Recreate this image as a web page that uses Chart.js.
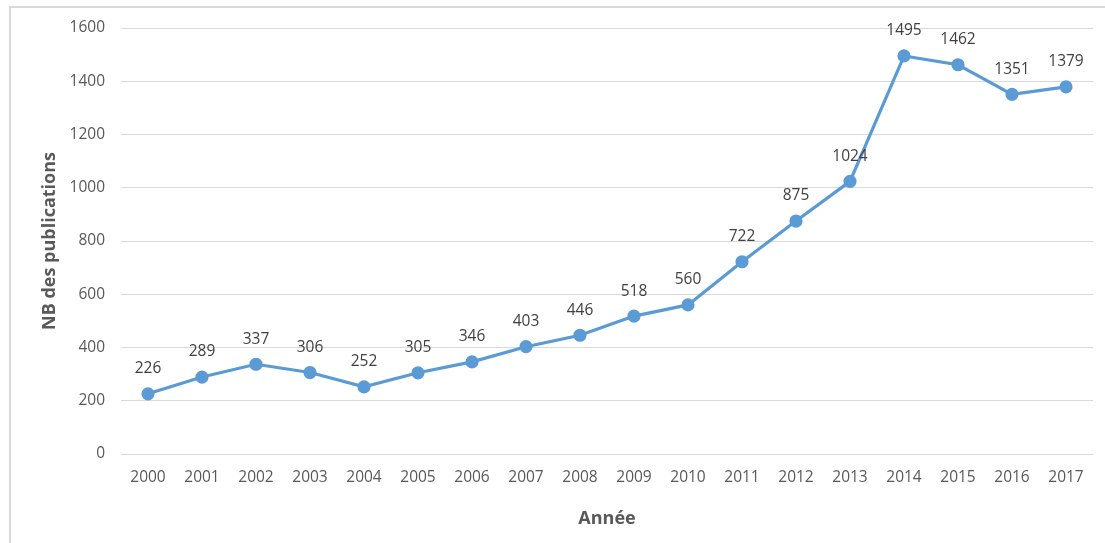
<!DOCTYPE html>
<html>
<head>
<meta charset="utf-8">
<script src="https://cdn.jsdelivr.net/npm/chart.js@4"></script>
<style>
  html, body { margin: 0; padding: 0; background: #ffffff; }
  #wrap { width: 1105px; height: 543px; position: relative; }
</style>
</head>
<body>
<div id="wrap"><canvas id="c"></canvas></div>
<script>
// Annual publication counts
const years = ['2000','2001','2002','2003','2004','2005','2006','2007','2008',
               '2009','2010','2011','2012','2013','2014','2015','2016','2017'];
const publications = [226, 289, 337, 306, 252, 305, 346, 403, 446,
                      518, 560, 722, 875, 1024, 1495, 1462, 1351, 1379];
const yTicks = [0, 200, 400, 600, 800, 1000, 1200, 1400, 1600];

const FONT = '"Open Sans", "Liberation Sans", sans-serif';

// Light frame drawn around the chart
const framePlugin = {
  id: 'frame',
  beforeDraw(chart) {
    const ctx = chart.ctx;
    ctx.save();
    ctx.strokeStyle = '#d9d9d9';
    ctx.lineWidth = 2;
    ctx.beginPath();
    ctx.moveTo(10, chart.height);
    ctx.lineTo(10, 7);
    ctx.lineTo(chart.width, 7);
    ctx.stroke();
    ctx.restore();
  }
};

// Value labels above each point
const valueLabels = {
  id: 'valueLabels',
  afterDatasetsDraw(chart) {
    const ctx = chart.ctx;
    const meta = chart.getDatasetMeta(0);
    const data = chart.data.datasets[0].data;
    ctx.save();
    ctx.font = '15.5px ' + FONT;
    ctx.fillStyle = '#404040';
    ctx.textAlign = 'center';
    ctx.textBaseline = 'middle';
    meta.data.forEach((pt, i) => {
      ctx.fillText(String(data[i]), pt.x, pt.y - 25);
    });
    ctx.restore();
  }
};

new Chart(document.getElementById('c'), {
  type: 'line',
  data: {
    labels: years,
    datasets: [{
      data: publications,
      borderColor: '#5b9bd5',
      backgroundColor: '#5b9bd5',
      borderWidth: 3.2,
      pointRadius: 5,
      pointHoverRadius: 5,
      pointBackgroundColor: '#5b9bd5',
      pointBorderColor: '#5b9bd5',
      tension: 0
    }]
  },
  options: {
    responsive: true,
    maintainAspectRatio: false,
    animation: false,
    layout: { padding: { top: 28, right: 12, left: 0, bottom: 0 } },
    plugins: {
      legend: { display: false },
      tooltip: { enabled: false }
    },
    scales: {
      x: {
        offset: true,
        grid: { display: false, drawTicks: false },
        border: { display: false },
        ticks: { color: '#595959', font: { family: FONT, size: 15.5 }, padding: 14, maxRotation: 0, autoSkip: false },
        title: {
          display: true, text: 'Année', color: '#595959',
          font: { family: FONT, size: 18, weight: 'bold' },
          padding: { top: 0, bottom: 13 }
        },
        afterFit(scale) { scale.height = 89; }
      },
      y: {
        min: 0, max: 1600,
        afterBuildTicks(scale) { scale.ticks = yTicks.map(v => ({ value: v })); },
        grid: { color: '#d9d9d9', drawTicks: false },
        border: { display: false },
        ticks: {
          color: '#595959', font: { family: FONT, size: 15.5 }, padding: 16,
          callback: (v) => String(v)
        },
        title: {
          display: true, text: 'NB des publications', color: '#595959',
          font: { family: FONT, size: 18, weight: 'bold' },
          padding: { top: 39, bottom: 0 }
        },
        afterFit(scale) { scale.width = 121; }
      }
    }
  },
  plugins: [framePlugin, valueLabels]
});
</script>
</body>
</html>
